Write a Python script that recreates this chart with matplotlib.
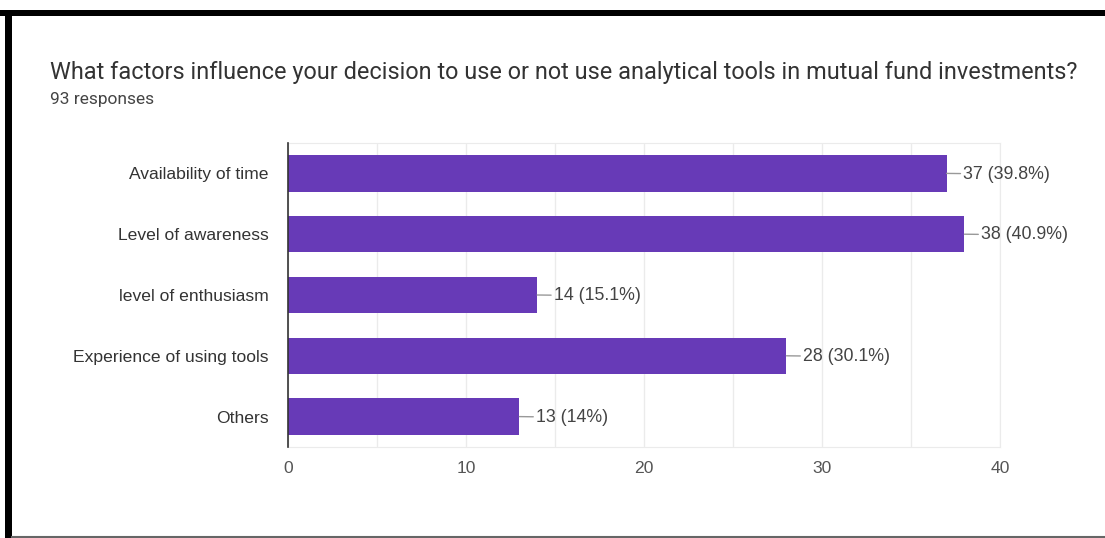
import matplotlib.pyplot as plt
from matplotlib.patches import Rectangle
from matplotlib.lines import Line2D

# Survey answers
factors = ["Availability of time", "Level of awareness", "level of enthusiasm",
           "Experience of using tools", "Others"]
counts = [37, 38, 14, 28, 13]
percents = ["39.8%", "40.9%", "15.1%", "30.1%", "14%"]
x_ticks = [0, 10, 20, 30, 40]

title = "What factors influence your decision to use or not use analytical tools in mutual fund investments?"
subtitle = "93 responses"

W, H = 1105, 538
fig = plt.figure(figsize=(W / 100, H / 100), dpi=100)
fig.patch.set_facecolor("white")

# frame around the card
fig.patches.append(Rectangle((0, 1 - 16 / H), 1, 6 / H, transform=fig.transFigure,
                             facecolor="black", edgecolor="none"))
fig.patches.append(Rectangle((5 / W, 0), 7 / W, 1 - 10 / H, transform=fig.transFigure,
                             facecolor="black", edgecolor="none"))
fig.lines.append(Line2D([12 / W, 1], [1.5 / H, 1.5 / H], transform=fig.transFigure,
                        color="#666666", lw=1.5))

fig.text(50 / W, 1 - 72 / H, title, fontsize=16.9, family="Roboto",
         color="#333333", va="center", ha="left")
fig.text(50 / W, 1 - 100 / H, subtitle, fontsize=12.5, family="Roboto",
         color="#444444", va="center", ha="left")

ax = fig.add_axes([288 / W, 1 - 447 / H, 712 / W, 304 / H])
y = list(range(len(factors)))
ax.barh(y, counts, height=0.6, color="#673AB7", zorder=3)

ax.set_xlim(0, 40)
ax.set_ylim(len(factors) - 0.5, -0.5)
ax.set_xticks(x_ticks)
ax.set_xticks(range(0, 41, 5), minor=True)
ax.grid(axis="x", which="both", color="#ebebeb", lw=1, zorder=0)
ax.set_yticks(y)
ax.set_yticklabels(factors)
ax.tick_params(axis="y", length=0, pad=14, labelsize=12.6, labelcolor="#333333")
ax.tick_params(axis="x", which="both", length=0, pad=10, labelsize=12.6, labelcolor="#555555")
for lbl in ax.get_xticklabels() + ax.get_yticklabels():
    lbl.set_family("Liberation Sans")

for side in ["top", "right", "bottom"]:
    ax.spines[side].set_color("#ebebeb")
ax.spines["left"].set_color("#333333")
ax.spines["left"].set_linewidth(1.2)
ax.spines["left"].set_zorder(4)

for i, (c, p) in enumerate(zip(counts, percents)):
    ax.annotate(f"{c} ({p})", xy=(c, i), xytext=(12, -0.5), textcoords="offset points",
                va="center", ha="left", fontsize=12.8, family="Liberation Sans",
                color="#444444", annotation_clip=False,
                arrowprops=dict(arrowstyle="-", color="#999999", lw=1,
                                shrinkA=0, shrinkB=0))

fig.savefig("out.png", dpi=100)
